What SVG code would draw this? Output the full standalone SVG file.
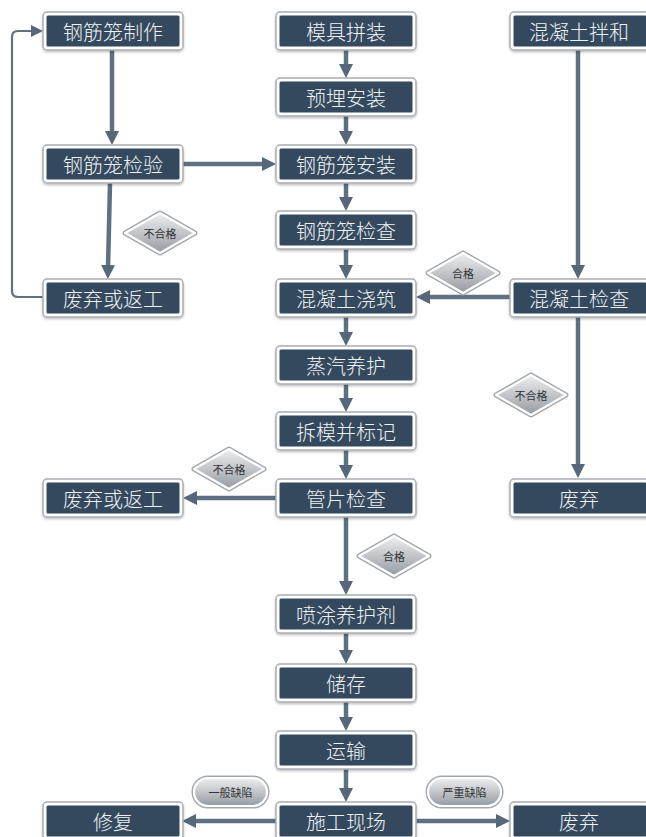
<svg xmlns="http://www.w3.org/2000/svg" width="646" height="837" viewBox="0 0 646 837">
<defs>
<linearGradient id="lg" x1="0" y1="0" x2="0" y2="1">
<stop offset="0" stop-color="#eeeff0"/>
<stop offset="1" stop-color="#959ba2"/>
</linearGradient>
<filter id="sh" x="-10%" y="-20%" width="120%" height="150%">
<feDropShadow dx="0" dy="1.5" stdDeviation="1.2" flood-color="#000" flood-opacity="0.25"/>
</filter>
<marker id="ah" viewBox="0 0 14 14" refX="4" refY="7" markerWidth="14" markerHeight="14" markerUnits="userSpaceOnUse" orient="auto">
<path d="M0,0 L14,7 L0,14 z" fill="#56677a"/>
</marker>
<marker id="ahs" viewBox="0 0 12 12" refX="3" refY="6" markerWidth="12" markerHeight="12" markerUnits="userSpaceOnUse" orient="auto">
<path d="M0,0 L12,6 L0,12 z" fill="#56677a"/>
</marker>
</defs>
<style>
.o{fill:#ffffff;stroke:#a9afb5;stroke-width:1.5;filter:url(#sh)}
.i{fill:#34495e}
.t{font-family:"Noto Sans CJK SC","Noto Sans",sans-serif;font-size:20px;font-weight:300;fill:#eef2f5;text-anchor:middle;dominant-baseline:central}
.c{fill:none;stroke:#5f7083;stroke-width:4.5;marker-end:url(#ah)}
.cs{fill:none;stroke:#5f7083;stroke-width:2.2;marker-end:url(#ahs)}
.d1{fill:none;stroke:#a3a8ae;stroke-width:5;stroke-linejoin:round}
.d2{fill:url(#lg);stroke:#ffffff;stroke-width:2.2;stroke-linejoin:round}
.lt{font-family:"Noto Sans CJK SC","Noto Sans",sans-serif;font-size:11px;fill:#333;text-anchor:middle;dominant-baseline:central}
</style>
<rect width="646" height="837" fill="#ffffff"/>

<g id="connectors">
<path class="c" d="M112,50 V135"/>
<path class="c" d="M183,164 H266"/>
<path class="c" d="M110,183 L108,269"/>
<path class="cs" d="M43,297 H18 Q12,297 12,291 V37 Q12,31 18,31 H34"/>
<path class="c" d="M346,50 V68"/>
<path class="c" d="M346,116 V135"/>
<path class="c" d="M346,183 V201"/>
<path class="c" d="M346,249 V269"/>
<path class="c" d="M346,317 V336"/>
<path class="c" d="M346,384 V402"/>
<path class="c" d="M346,450 V469"/>
<path class="c" d="M346,517 V585"/>
<path class="c" d="M346,633 V654"/>
<path class="c" d="M346,702 V721"/>
<path class="c" d="M346,769 V792"/>
<path class="c" d="M578,50 V269"/>
<path class="c" d="M510,297 H426"/>
<path class="c" d="M578,317 V468"/>
<path class="c" d="M276,498 H193"/>
<path class="c" d="M276,821 H192"/>
<path class="c" d="M416,821 H500"/>
</g>

<g id="n1"><rect class="o" x="43" y="12" width="140" height="38" rx="4"/><rect class="i" x="46.5" y="15.5" width="133" height="31" rx="1.5"/><text class="t" x="113" y="31">钢筋笼制作</text></g>
<g id="n2"><rect class="o" x="43" y="145" width="140" height="38" rx="4"/><rect class="i" x="46.5" y="148.5" width="133" height="31" rx="1.5"/><text class="t" x="113" y="164">钢筋笼检验</text></g>
<g id="n3"><rect class="o" x="43" y="279" width="140" height="38" rx="4"/><rect class="i" x="46.5" y="282.5" width="133" height="31" rx="1.5"/><text class="t" x="113" y="298">废弃或返工</text></g>
<g id="n4"><rect class="o" x="43" y="479" width="140" height="38" rx="4"/><rect class="i" x="46.5" y="482.5" width="133" height="31" rx="1.5"/><text class="t" x="113" y="498">废弃或返工</text></g>
<g id="n5"><rect class="o" x="43" y="802" width="140" height="38" rx="4"/><rect class="i" x="46.5" y="805.5" width="133" height="31" rx="1.5"/><text class="t" x="113" y="821">修复</text></g>

<g id="m1"><rect class="o" x="276" y="12" width="140" height="38" rx="4"/><rect class="i" x="279.5" y="15.5" width="133" height="31" rx="1.5"/><text class="t" x="346" y="31">模具拼装</text></g>
<g id="m2"><rect class="o" x="276" y="78" width="140" height="38" rx="4"/><rect class="i" x="279.5" y="81.5" width="133" height="31" rx="1.5"/><text class="t" x="346" y="97">预埋安装</text></g>
<g id="m3"><rect class="o" x="276" y="145" width="140" height="38" rx="4"/><rect class="i" x="279.5" y="148.5" width="133" height="31" rx="1.5"/><text class="t" x="346" y="164">钢筋笼安装</text></g>
<g id="m4"><rect class="o" x="276" y="211" width="140" height="38" rx="4"/><rect class="i" x="279.5" y="214.5" width="133" height="31" rx="1.5"/><text class="t" x="346" y="230">钢筋笼检查</text></g>
<g id="m5"><rect class="o" x="276" y="279" width="140" height="38" rx="4"/><rect class="i" x="279.5" y="282.5" width="133" height="31" rx="1.5"/><text class="t" x="346" y="298">混凝土浇筑</text></g>
<g id="m6"><rect class="o" x="276" y="346" width="140" height="38" rx="4"/><rect class="i" x="279.5" y="349.5" width="133" height="31" rx="1.5"/><text class="t" x="346" y="365">蒸汽养护</text></g>
<g id="m7"><rect class="o" x="276" y="412" width="140" height="38" rx="4"/><rect class="i" x="279.5" y="415.5" width="133" height="31" rx="1.5"/><text class="t" x="346" y="431">拆模并标记</text></g>
<g id="m8"><rect class="o" x="276" y="479" width="140" height="38" rx="4"/><rect class="i" x="279.5" y="482.5" width="133" height="31" rx="1.5"/><text class="t" x="346" y="498">管片检查</text></g>
<g id="m9"><rect class="o" x="276" y="595" width="140" height="38" rx="4"/><rect class="i" x="279.5" y="598.5" width="133" height="31" rx="1.5"/><text class="t" x="346" y="614">喷涂养护剂</text></g>
<g id="m10"><rect class="o" x="276" y="664" width="140" height="38" rx="4"/><rect class="i" x="279.5" y="667.5" width="133" height="31" rx="1.5"/><text class="t" x="346" y="683">储存</text></g>
<g id="m11"><rect class="o" x="276" y="731" width="140" height="38" rx="4"/><rect class="i" x="279.5" y="734.5" width="133" height="31" rx="1.5"/><text class="t" x="346" y="750">运输</text></g>
<g id="m12"><rect class="o" x="276" y="802" width="140" height="38" rx="4"/><rect class="i" x="279.5" y="805.5" width="133" height="31" rx="1.5"/><text class="t" x="346" y="821">施工现场</text></g>

<g id="r1"><rect class="o" x="510" y="12" width="140" height="38" rx="4"/><rect class="i" x="513.5" y="15.5" width="133" height="31" rx="1.5"/><text class="t" x="579" y="31">混凝土拌和</text></g>
<g id="r2"><rect class="o" x="510" y="279" width="140" height="38" rx="4"/><rect class="i" x="513.5" y="282.5" width="133" height="31" rx="1.5"/><text class="t" x="579" y="298">混凝土检查</text></g>
<g id="r3"><rect class="o" x="510" y="479" width="140" height="38" rx="4"/><rect class="i" x="513.5" y="482.5" width="133" height="31" rx="1.5"/><text class="t" x="579" y="498">废弃</text></g>
<g id="r4"><rect class="o" x="510" y="802" width="140" height="38" rx="4"/><rect class="i" x="513.5" y="805.5" width="133" height="31" rx="1.5"/><text class="t" x="579" y="821">废弃</text></g>

<g id="lb1"><polygon class="d1" points="160,213 195,233 160,253 125,233"/><polygon class="d2" points="160,213 195,233 160,253 125,233"/><text class="lt" x="160" y="233">不合格</text></g>
<g id="lb2"><polygon class="d1" points="463,253 498,273 463,293 428,273"/><polygon class="d2" points="463,253 498,273 463,293 428,273"/><text class="lt" x="463" y="273">合格</text></g>
<g id="lb3"><polygon class="d1" points="531,375 566,395 531,415 496,395"/><polygon class="d2" points="531,375 566,395 531,415 496,395"/><text class="lt" x="531" y="395">不合格</text></g>
<g id="lb4"><polygon class="d1" points="229,449 264,469 229,489 194,469"/><polygon class="d2" points="229,449 264,469 229,489 194,469"/><text class="lt" x="229" y="469">不合格</text></g>
<g id="lb5"><polygon class="d1" points="394,536 429,556 394,576 359,556"/><polygon class="d2" points="394,536 429,556 394,576 359,556"/><text class="lt" x="394" y="556">合格</text></g>
<g id="lb6"><rect class="d1" x="194" y="778" width="73" height="28" rx="14"/><rect class="d2" x="194" y="778" width="73" height="28" rx="14"/><text class="lt" x="230.5" y="792">一般缺陷</text></g>
<g id="lb7"><rect class="d1" x="428" y="778" width="73" height="28" rx="14"/><rect class="d2" x="428" y="778" width="73" height="28" rx="14"/><text class="lt" x="464.5" y="792">严重缺陷</text></g>
</svg>
